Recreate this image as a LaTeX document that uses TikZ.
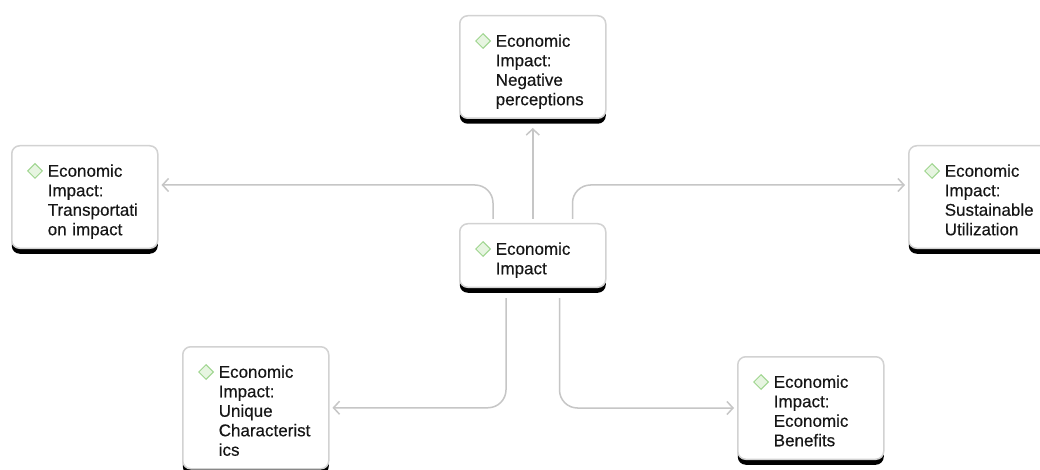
\documentclass[tikz,border=0pt]{standalone}
\usepackage{fontspec}
\setmainfont{Liberation Sans}[FakeBold=0.35]
\usetikzlibrary{arrows.meta,shapes.geometric,shadows}
\definecolor{edgegray}{HTML}{C6C6C6}
\definecolor{cardgray}{HTML}{D2D2D2}
\definecolor{gemgreen}{HTML}{9ED58E}
\definecolor{gemfill}{HTML}{E7F5E1}
\definecolor{ink}{HTML}{161616}

\begin{document}
\begin{tikzpicture}[x=1pt, y=-1pt, >={Straight Barb[length=6pt,width=13pt]},
    card/.style={anchor=north west, rectangle, rounded corners=8pt, draw=cardgray, line width=1.5pt,
        fill=white, general shadow={fill=black, shadow yshift=-5.5pt},
        text width=146pt, inner xsep=0pt, inner ysep=5pt, align=left, text=ink,
        font=\fontsize{17pt}{19.5pt}\selectfont,
        execute at begin node={\leftskip=36pt\rule{0pt}{26pt}},
        execute at end node={\rule[-8pt]{0pt}{8pt}}},
    gem/.style={diamond, draw=gemgreen, fill=gemfill, line width=1pt, minimum size=15pt, inner sep=0pt},
    link/.style={->, draw=edgegray, line width=1.5pt, rounded corners=18pt}]
    \path[use as bounding box, fill=white] (0, 0) rectangle (1040, 470);

    \node[card] (hub) at (459, 223) {Economic\\Impact};
    \node[card] (neg) at (459, 15) {Economic\\Impact:\\Negative\\perceptions};
    \node[card] (trans) at (11, 145) {Economic\\Impact:\\Transportati\\on impact};
    \node[card] (sust) at (908, 145) {Economic\\Impact:\\Sustainable\\Utilization};
    \node[card] (uniq) at (182, 346) {Economic\\Impact:\\Unique\\Characterist\\ics};
    \node[card] (bene) at (737, 356) {Economic\\Impact:\\Economic\\Benefits};

    \foreach \c in {hub, neg, trans, sust, uniq, bene}
        \node[gem] (gem-\c) at ([xshift=24pt, yshift=-26pt]\c.north west) {};

    \draw[link] ([yshift=4pt]hub.north) -- ([yshift=-9pt]neg.south);
    \draw[link] ([xshift=34pt, yshift=4pt]hub.north west) |- ([xshift=3pt, yshift=12pt]trans.east);
    \draw[link] ([xshift=-34pt, yshift=4pt]hub.north east) |- ([xshift=-3pt, yshift=12pt]sust.west);
    \draw[link] ([xshift=47pt, yshift=-10pt]hub.south west) |- ([xshift=3pt]uniq.east);
    \draw[link] ([xshift=-47pt, yshift=-10pt]hub.south east) |- ([xshift=-3pt]bene.west);
\end{tikzpicture}
\end{document}
